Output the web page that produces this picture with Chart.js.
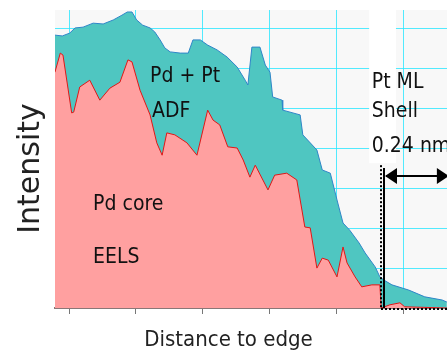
<!DOCTYPE html>
<html><head><meta charset="utf-8">
<script src="https://cdn.jsdelivr.net/npm/chart.js@4"></script>
<style>html,body{margin:0;padding:0;background:#fff;overflow:hidden}canvas{display:block}</style>
</head><body>
<canvas id="c" width="447" height="354"></canvas>
<script>
// ---- data (distance in tick units, intensity in grid units) ----
const adfDistance = [0.79,0.90,1.01,1.09,1.21,1.36,1.51,1.66,1.79,1.87,1.94,2.01,2.10,2.21,2.28,2.36,2.43,2.51,2.66,2.78,2.85,2.96,3.07,3.21,3.36,3.51,3.63,3.67,3.73,3.85,3.93,4.00,4.04,4.18,4.19,4.45,4.49,4.70,4.78,4.90,5.00,5.09,5.19,5.33,5.42,5.57,5.64,5.70,5.82,6.07,6.31,6.57,6.64];
const adfIntensity = [6.84,6.82,6.89,7.02,7.04,7.14,7.12,7.22,7.34,7.42,7.42,7.22,7.09,7.02,6.92,6.72,6.52,6.42,6.39,6.39,6.72,6.72,6.59,6.47,6.29,6.04,5.71,5.59,6.54,6.54,6.09,5.91,5.29,5.21,4.96,4.84,4.34,3.96,3.46,3.38,2.71,2.13,1.95,1.63,1.38,1.03,0.78,0.70,0.58,0.45,0.28,0.20,0.15];
const eelsDistance = [0.79,0.87,0.91,1.04,1.07,1.16,1.31,1.46,1.61,1.76,1.88,1.94,2.06,2.21,2.31,2.39,2.46,2.58,2.76,2.91,3.07,3.15,3.25,3.37,3.51,3.60,3.70,3.78,3.97,4.07,4.25,4.40,4.52,4.60,4.70,4.78,4.87,5.00,5.09,5.15,5.27,5.37,5.52,5.64,5.66,5.79,5.94,6.01,6.64];
const eelsIntensity = [5.91,6.39,6.34,4.89,4.91,5.54,5.71,5.21,5.51,5.66,6.22,6.17,5.46,4.84,4.14,3.83,4.39,4.34,4.14,3.83,4.96,4.71,4.59,4.04,4.01,3.71,3.28,3.58,2.96,3.33,3.38,3.21,2.03,2.01,1.00,1.25,1.20,0.78,1.53,1.13,0.78,0.53,0.58,0.58,0.00,0.08,0.13,0.03,0.00];
const xTickValues = [1,2,3,4,5,6];
const yTickValues = [0,1,2,3,4,5,6,7];
const xTitle = 'Distance to edge';
const yTitle = 'Intensity\u00a0\u00a0';
const labelTexts = ['Pd + Pt','ADF','Pd core','EELS','Pt ML','Shell','0.24 nm'];
const labelX = [2.21,2.24,1.36,1.36,5.52,5.52,5.52];
const labelY = [5.66,4.79,2.46,1.13,5.51,4.79,3.91];
const shellEdge = 5.657;

const FONT = "'DejaVu Sans Condensed','DejaVu Sans',sans-serif";

const decor = {
  id:'decor',
  beforeDraw(chart){
    const {ctx, chartArea:a} = chart;
    ctx.save(); ctx.fillStyle='#f8f8f8';
    ctx.fillRect(a.left,a.top,a.right-a.left,a.bottom-a.top); ctx.restore();
  },
  beforeDatasetsDraw(chart){
    const {ctx, scales:{x,y}} = chart;
    ctx.save(); ctx.fillStyle='#ffffff';
    const l=x.getPixelForValue(5.48), r=x.getPixelForValue(5.88);
    ctx.fillRect(l, chart.chartArea.top, r-l, y.getPixelForValue(3.63)-chart.chartArea.top);
    ctx.restore();
  },
  afterDatasetsDraw(chart){
    const {ctx, scales:{x,y}} = chart;
    ctx.save();
    ctx.fillStyle='#111'; ctx.font = '21px '+FONT; ctx.textBaseline='alphabetic'; ctx.textAlign='left';
    labelTexts.forEach((t,i)=>ctx.fillText(t, x.getPixelForValue(labelX[i]), y.getPixelForValue(labelY[i])));
    const xe = x.getPixelForValue(shellEdge);
    const y0 = y.getPixelForValue(0);
    ctx.strokeStyle='#000';
    ctx.lineWidth=2; ctx.setLineDash([2,2]);
    ctx.beginPath(); ctx.moveTo(xe, y.getPixelForValue(3.58)); ctx.lineTo(xe, y0); ctx.stroke();
    ctx.beginPath(); ctx.moveTo(xe, y0+1); ctx.lineTo(chart.width, y0+1); ctx.stroke();
    ctx.setLineDash([]);
    const xs = xe+3;
    ctx.beginPath(); ctx.moveTo(xs, y.getPixelForValue(3.51)); ctx.lineTo(xs, y0); ctx.stroke();
    const ya = y.getPixelForValue(3.31), xr = x.getPixelForValue(6.67);
    ctx.beginPath(); ctx.moveTo(xs+2, ya); ctx.lineTo(xr-4, ya); ctx.stroke();
    ctx.fillStyle='#000';
    ctx.beginPath(); ctx.moveTo(xs+1, ya); ctx.lineTo(xs+13, ya-8); ctx.lineTo(xs+13, ya+8); ctx.closePath(); ctx.fill();
    ctx.beginPath(); ctx.moveTo(xr, ya); ctx.lineTo(xr-12, ya-8); ctx.lineTo(xr-12, ya+8); ctx.closePath(); ctx.fill();
    ctx.restore();
  }
};

new Chart(document.getElementById('c'), {
  type:'line',
  data:{datasets:[
    {label:'Pd core EELS', data: eelsDistance.map((v,i)=>({x:v,y:eelsIntensity[i]})),
     borderColor:'#e01818', borderWidth:1, backgroundColor:'#ffa0a0', fill:'origin', pointRadius:0, tension:0, order:0},
    {label:'Pd + Pt ADF', data: adfDistance.map((v,i)=>({x:v,y:adfIntensity[i]})),
     borderColor:'#2f86c8', borderWidth:1, backgroundColor:'#4fc6c1', fill:'origin', pointRadius:0, tension:0, order:1}
  ]},
  options:{
    responsive:false, animation:false, events:[],
    layout:{padding:{left:10, top:10, right:0, bottom:0}},
    plugins:{legend:{display:false}, tooltip:{enabled:false},
      title:{display:true, text:xTitle, position:'bottom', color:'#222',
        font:{family:FONT, size:22, weight:'normal', lineHeight:1.0}, padding:{top:0,bottom:3}}},
    scales:{
      x:{type:'linear', min:0.791, max:6.642,
        afterBuildTicks:s=>{s.ticks = xTickValues.map(v=>({value:v}));},
        afterFit:s=>{s.height=21;},
        ticks:{display:false},
        grid:{color:'rgba(40,230,255,0.8)', lineWidth:1, tickLength:6, tickColor:'#777', tickWidth:1},
        border:{display:true, color:'#8a7777', width:2}},
      y:{min:0, max:7.47,
        afterBuildTicks:s=>{s.ticks = yTickValues.map(v=>({value:v}));},
        afterFit:s=>{s.width=45;},
        ticks:{display:false},
        grid:{color:'rgba(40,230,255,0.8)', lineWidth:1, drawTicks:false},
        border:{display:false},
        title:{display:true, text:yTitle, color:'#222', font:{family:"'DejaVu Sans',sans-serif", size:30, weight:'normal'}, padding:{top:3,bottom:0}}}
    }
  },
  plugins:[decor]
});
</script>
</body></html>
